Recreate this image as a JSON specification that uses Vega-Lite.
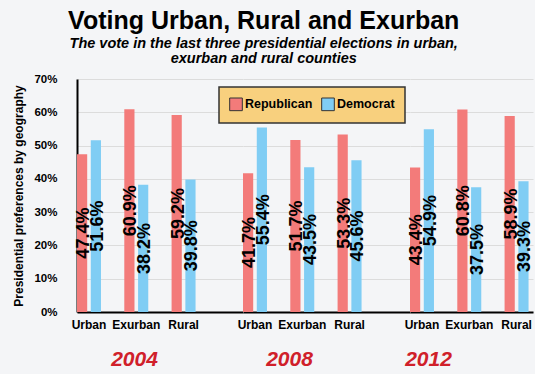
{
  "$schema": "https://vega.github.io/schema/vega-lite/v6.json",
  "background": "#f4f5f7",
  "padding": {"left": 12, "top": 8, "right": 5, "bottom": 5},
  "spacing": 0,
  "bounds": "flush",
  "title": {
    "text": "Voting Urban, Rural and Exurban",
    "subtitle": ["The vote in the last three presidential elections in urban,", "exurban and rural counties"],
    "font": "Liberation Sans", "fontSize": 25, "fontWeight": "bold", "color": "#000",
    "subtitleFont": "Liberation Sans", "subtitleFontSize": 14.5, "subtitleFontStyle": "italic", "subtitleFontWeight": "bold", "subtitleColor": "#000",
    "subtitlePadding": 3, "subtitleLineHeight": 15, "anchor": "middle", "frame": "bounds", "offset": 8, "dx": -10
  },
  "data": {"values": [
    {"year": "2004", "geo": "Urban", "party": "Republican", "value": 0.474},
    {"year": "2004", "geo": "Urban", "party": "Democrat", "value": 0.516},
    {"year": "2004", "geo": "Exurban", "party": "Republican", "value": 0.609},
    {"year": "2004", "geo": "Exurban", "party": "Democrat", "value": 0.382},
    {"year": "2004", "geo": "Rural", "party": "Republican", "value": 0.592},
    {"year": "2004", "geo": "Rural", "party": "Democrat", "value": 0.398},
    {"year": "2008", "geo": "Urban", "party": "Republican", "value": 0.417},
    {"year": "2008", "geo": "Urban", "party": "Democrat", "value": 0.554},
    {"year": "2008", "geo": "Exurban", "party": "Republican", "value": 0.517},
    {"year": "2008", "geo": "Exurban", "party": "Democrat", "value": 0.435},
    {"year": "2008", "geo": "Rural", "party": "Republican", "value": 0.533},
    {"year": "2008", "geo": "Rural", "party": "Democrat", "value": 0.456},
    {"year": "2012", "geo": "Urban", "party": "Republican", "value": 0.434},
    {"year": "2012", "geo": "Urban", "party": "Democrat", "value": 0.549},
    {"year": "2012", "geo": "Exurban", "party": "Republican", "value": 0.608},
    {"year": "2012", "geo": "Exurban", "party": "Democrat", "value": 0.375},
    {"year": "2012", "geo": "Rural", "party": "Republican", "value": 0.589},
    {"year": "2012", "geo": "Rural", "party": "Democrat", "value": 0.393}
  ]},
  "hconcat": [
    {
      "width": 166, "height": 233,
      "transform": [{"filter": "datum.year == '2004'"}],
      "layer": [
        {"mark": {"type": "bar"},
         "encoding": {
           "x": {"field": "geo", "type": "nominal", "sort": ["Urban", "Exurban", "Rural"],
                 "scale": {"paddingInner": 0.493, "paddingOuter": 0.5015, "align": 0},
                 "axis": {"title": "2004", "titleX": 57}},
           "xOffset": {"field": "party", "sort": ["Republican", "Democrat"], "scale": {"paddingInner": 0.26, "paddingOuter": 0}},
           "y": {"field": "value", "type": "quantitative", "scale": {"domain": [0, 0.7]},
                 "axis": {"format": "%", "tickCount": 7, "title": "Presidential preferences by geography", "titleFontSize": 12, "titleFontWeight": "bold", "titleColor": "#000", "labelFontWeight": "bold", "labelFontSize": 11.5, "labelColor": "#000", "labelPadding": 20, "ticks": false, "domain": true, "domainColor": "#000", "domainWidth": 2, "titlePadding": 8}},
           "color": {"field": "party", "type": "nominal", "scale": {"domain": ["Republican", "Democrat"], "range": ["#f37b7a", "#80cdf4"]}, "title": null,
                     "legend": {"labelFontWeight": 700, "labelFontSize": 12.5, "labelColor": "#000"}}
         }},
        {"mark": {"type": "text", "angle": 270, "fontSize": 18, "fontWeight": "bold", "font": "Liberation Sans", "color": "#000", "baseline": "middle", "align": "center", "dy": 2},
         "encoding": {
           "x": {"field": "geo", "type": "nominal", "sort": ["Urban", "Exurban", "Rural"]},
           "xOffset": {"field": "party", "sort": ["Republican", "Democrat"]},
           "y": {"field": "value", "type": "quantitative", "scale": {"domain": [0, 1.4]}, "axis": null},
           "text": {"field": "value", "type": "quantitative", "format": ".1%"}
         }}
      ],
      "resolve": {"scale": {"y": "independent"}}
    },
    {
      "width": 167, "height": 233,
      "transform": [{"filter": "datum.year == '2008'"}],
      "layer": [
        {"mark": {"type": "bar"},
         "encoding": {
           "x": {"field": "geo", "type": "nominal", "sort": ["Urban", "Exurban", "Rural"],
                 "scale": {"paddingInner": 0.493, "paddingOuter": 0.512, "align": 0},
                 "axis": {"title": "2008", "titleX": 46}},
           "xOffset": {"field": "party", "sort": ["Republican", "Democrat"], "scale": {"paddingInner": 0.26, "paddingOuter": 0}},
           "y": {"field": "value", "type": "quantitative", "scale": {"domain": [0, 0.7]},
                 "axis": {"labels": false, "ticks": false, "domain": false, "title": null, "tickCount": 7}},
           "color": {"field": "party", "type": "nominal", "scale": {"domain": ["Republican", "Democrat"], "range": ["#f37b7a", "#80cdf4"]}, "title": null,
                     "legend": {"labelFontWeight": 700, "labelFontSize": 12.5, "labelColor": "#000"}}
         }},
        {"mark": {"type": "text", "angle": 270, "fontSize": 18, "fontWeight": "bold", "font": "Liberation Sans", "color": "#000", "baseline": "middle", "align": "center", "dy": 2},
         "encoding": {
           "x": {"field": "geo", "type": "nominal", "sort": ["Urban", "Exurban", "Rural"]},
           "xOffset": {"field": "party", "sort": ["Republican", "Democrat"]},
           "y": {"field": "value", "type": "quantitative", "scale": {"domain": [0, 1.4]}, "axis": null},
           "text": {"field": "value", "type": "quantitative", "format": ".1%"}
         }}
      ],
      "resolve": {"scale": {"y": "independent"}}
    },
    {
      "width": 123, "height": 233,
      "transform": [{"filter": "datum.year == '2012'"}],
      "layer": [
        {"mark": {"type": "bar"},
         "encoding": {
           "x": {"field": "geo", "type": "nominal", "sort": ["Urban", "Exurban", "Rural"],
                 "scale": {"paddingInner": 0.493, "paddingOuter": 0.047, "align": 0},
                 "axis": {"title": "2012", "titleX": 18}},
           "xOffset": {"field": "party", "sort": ["Republican", "Democrat"], "scale": {"paddingInner": 0.26, "paddingOuter": 0}},
           "y": {"field": "value", "type": "quantitative", "scale": {"domain": [0, 0.7]},
                 "axis": {"labels": false, "ticks": false, "domain": false, "title": null, "tickCount": 7}},
           "color": {"field": "party", "type": "nominal", "scale": {"domain": ["Republican", "Democrat"], "range": ["#f37b7a", "#80cdf4"]}, "title": null,
                     "legend": {"labelFontWeight": 700, "labelFontSize": 12.5, "labelColor": "#000"}}
         }},
        {"mark": {"type": "text", "angle": 270, "fontSize": 18, "fontWeight": "bold", "font": "Liberation Sans", "color": "#000", "baseline": "middle", "align": "center", "dy": 2},
         "encoding": {
           "x": {"field": "geo", "type": "nominal", "sort": ["Urban", "Exurban", "Rural"]},
           "xOffset": {"field": "party", "sort": ["Republican", "Democrat"]},
           "y": {"field": "value", "type": "quantitative", "scale": {"domain": [0, 1.4]}, "axis": null},
           "text": {"field": "value", "type": "quantitative", "format": ".1%"}
         }}
      ],
      "resolve": {"scale": {"y": "independent"}}
    }
  ],
  "config": {
    "font": "Liberation Sans",
    "view": {"stroke": null},
    "axis": {"labelFont": "Liberation Sans", "titleFont": "Liberation Sans", "gridColor": "#dcdcdc", "gridWidth": 1},
    "axisX": {"labelFontWeight": "bold", "labelFontSize": 12, "labelColor": "#000", "labelAngle": 0, "labelPadding": 7, "ticks": false, "domainColor": "#000", "domainWidth": 2, "grid": false, "titleColor": "#d0202a", "titleFontSize": 21, "titleFontStyle": "italic", "titleFontWeight": "bold", "titlePadding": 18, "titleAlign": "center"},
    "legend": {"orient": "none", "legendX": 142, "legendY": 8, "direction": "horizontal", "fillColor": "#f8d07e", "strokeColor": "#333", "strokeWidth": 1.5, "padding": 10, "symbolType": "square", "symbolSize": 160, "symbolStrokeColor": "#333", "symbolStrokeWidth": 1, "symbolOpacity": 1, "labelFont": "Liberation Sans", "labelFontSize": 12.5, "labelFontWeight": 700, "labelColor": "#000", "labelOffset": 2, "columnPadding": 6}
  }
}
